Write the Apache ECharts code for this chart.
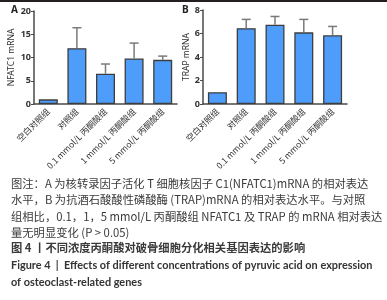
<!DOCTYPE html>
<html>
<head>
<meta charset="utf-8">
<script src="https://cdn.jsdelivr.net/npm/echarts@6/dist/echarts.min.js"></script>
<style>
    html, body { margin: 0; padding: 0; background: #fff; }
    #main { width: 387px; height: 300px; }
</style>
</head>
<body>
<div id="main"></div>
<script>
var groups = ['空白对照组', '对照组', '0.1 mmol/L 丙酮酸组', '1 mmol/L 丙酮酸组', '5 mmol/L 丙酮酸组'];
// NFATC1 mRNA (panel A): mean and top of error bar
var nfatc1 = [1.0, 12.0, 6.5, 9.8, 9.5];
var nfatc1Upper = [1.0, 16.4, 8.6, 13.1, 10.3];
// TRAP mRNA (panel B)
var trap = [1.0, 6.45, 6.75, 6.1, 5.85];
var trapUpper = [1.0, 7.2, 7.45, 7.2, 6.6];

var captionLines = [
    '图注：A 为核转录因子活化 T 细胞核因子 C1(NFATC1)mRNA 的相对表达',
    '水平，B 为抗酒石酸酸性磷酸酶 (TRAP)mRNA 的相对表达水平。与对照',
    '组相比，0.1，1，5 mmol/L 丙酮酸组 NFATC1 及 TRAP 的 mRNA 相对表达',
    '量无明显变化 (P > 0.05)'
];
var titleCn = '图 4 丨不同浓度丙酮酸对破骨细胞分化相关基因表达的影响';
var titleEn = [
    'Figure 4  |  Effects of different concentrations of pyruvic acid on expression',
    'of osteoclast-related genes'
];

var chart = echarts.init(document.getElementById('main'));

var barColor = '#4f9dfb';
var edgeColor = '#3d3d3d';
var axisColor = '#4a4a4a';

function xAxisFor(idx) {
    return {
        type: 'category',
        gridIndex: idx,
        data: groups,
        axisLine: { lineStyle: { color: axisColor, width: 1.5 } },
        axisTick: { alignWithLabel: true, length: 3, lineStyle: { color: axisColor } },
        axisLabel: {
            rotate: 45, fontSize: 8.5, color: '#333', margin: 6, interval: 0,
            fontFamily: 'Noto Sans CJK SC'
        }
    };
}

function yAxisFor(idx, max, interval, name) {
    return {
        type: 'value',
        gridIndex: idx,
        min: 0, max: max, interval: interval,
        name: name,
        nameLocation: 'middle',
        nameGap: idx === 0 ? 18 : 10,
        nameTextStyle: { fontSize: 8.5, color: '#333', fontFamily: 'Noto Sans' },
        splitLine: { show: false },
        axisLine: { show: true, lineStyle: { color: axisColor, width: 1.5 } },
        axisTick: { show: true, length: 3, lineStyle: { color: axisColor } },
        axisLabel: { fontSize: 9, color: '#333', margin: 3, fontWeight: 'bold', fontFamily: 'Noto Sans' }
    };
}

function barSeries(idx, data) {
    return {
        type: 'bar',
        xAxisIndex: idx, yAxisIndex: idx,
        data: data,
        barWidth: 19,
        itemStyle: { color: barColor, borderColor: edgeColor, borderWidth: 1.3 },
        z: 2
    };
}

function errSeries(idx, data, upper) {
    var items = data.map(function (v, i) { return [i, v, upper[i]]; });
    return {
        type: 'custom',
        xAxisIndex: idx, yAxisIndex: idx,
        data: items,
        z: 3,
        renderItem: function (params, api) {
            var lo = api.coord([api.value(0), api.value(1)]);
            var hi = api.coord([api.value(0), api.value(2)]);
            if (hi[1] >= lo[1] - 0.5) return;
            var st = { stroke: '#7a7a7a', lineWidth: 1.5 };
            return {
                type: 'group',
                children: [
                    { type: 'line', shape: { x1: lo[0], y1: lo[1], x2: hi[0], y2: hi[1] }, style: st },
                    { type: 'line', shape: { x1: hi[0] - 4.5, y1: hi[1], x2: hi[0] + 4.5, y2: hi[1] }, style: st }
                ]
            };
        }
    };
}

var graphics = [
    { type: 'rect', shape: { x: 0, y: 0, width: 387, height: 2 }, style: { fill: '#231f20' } },
    { type: 'text', left: 11, top: 5, style: { text: 'A', fontSize: 10, fontWeight: 'bold', fill: '#222', fontFamily: 'Noto Sans' } },
    { type: 'text', left: 182, top: 5, style: { text: 'B', fontSize: 10, fontWeight: 'bold', fill: '#222', fontFamily: 'Noto Sans' } }
];
var lineY = [183.5, 200, 216.5, 232.5];
captionLines.forEach(function (t, i) {
    graphics.push({
        type: 'text', x: 11, y: lineY[i],
        style: { text: t, fontSize: 11.3, fill: '#3a3a3a', textVerticalAlign: 'middle', fontFamily: 'Noto Sans CJK SC' }
    });
});
graphics.push({
    type: 'text', x: 11, y: 248,
    style: { text: titleCn, fontSize: 11.3, fontWeight: 'bold', fill: '#3a3a3a', textVerticalAlign: 'middle', fontFamily: 'Noto Sans CJK SC' }
});
titleEn.forEach(function (t, i) {
    graphics.push({
        type: 'text', x: 11, y: 265 + i * 17,
        style: { text: t, fontSize: 10.9, fontWeight: 'bold', fill: '#333', textVerticalAlign: 'middle', fontFamily: 'Lato' }
    });
});

var option = {
    animation: false,
    grid: [
        { left: 34, top: 11, width: 143, height: 93 },
        { left: 203, top: 10, width: 144, height: 94 }
    ],
    xAxis: [xAxisFor(0), xAxisFor(1)],
    yAxis: [yAxisFor(0, 20, 5, 'NFATC1 mRNA'), yAxisFor(1, 8, 2, 'TRAP mRNA')],
    series: [
        barSeries(0, nfatc1), errSeries(0, nfatc1, nfatc1Upper),
        barSeries(1, trap), errSeries(1, trap, trapUpper)
    ],
    graphic: graphics
};

chart.setOption(option);
</script>
</body>
</html>
